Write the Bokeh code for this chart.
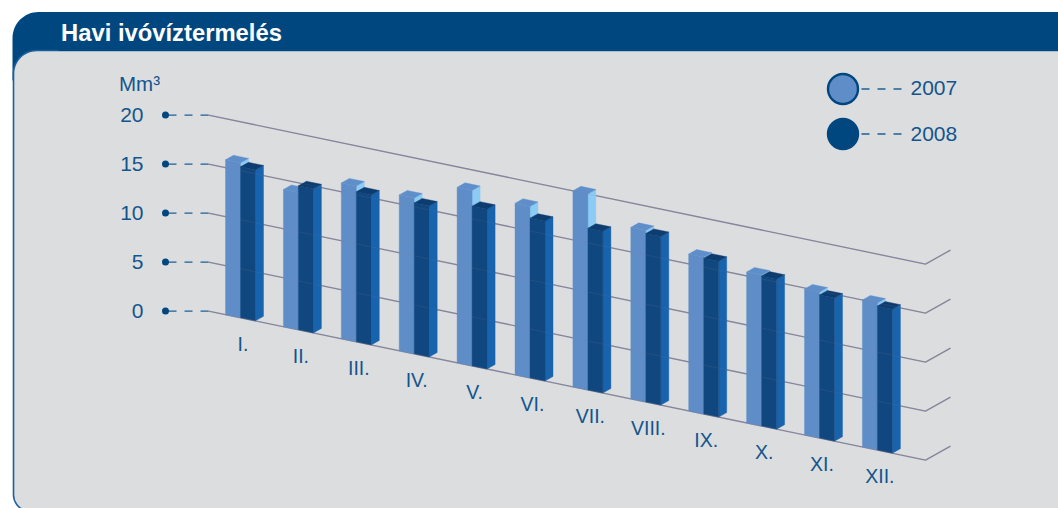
import math
from bokeh.plotting import figure
from bokeh.models import LinearAxis, FixedTicker, Range1d
from bokeh.core.properties import value
from bokeh.embed import file_html
from bokeh.resources import INLINE

months = ["I.", "II.", "III.", "IV.", "V.", "VI.", "VII.", "VIII.", "IX.", "X.", "XI.", "XII."]
production_2007 = [15.8, 14.0, 15.9, 15.9, 17.9, 17.5, 20.0, 17.5, 16.0, 15.4, 14.9, 15.0]
production_2008 = [15.4, 14.7, 15.3, 15.4, 16.3, 16.3, 16.5, 17.2, 15.9, 15.3, 14.6, 14.7]
y_ticks = [0, 5, 10, 15, 20]
title = "Havi ivóvíztermelés"
unit = "Mm³"
series_names = ["2007", "2008"]

FONT = "Liberation Sans"
BLUE = "#00477f"
TEXT = "#12558c"
PANEL = "#dcdddf"
GRID = "#86869c"
DASH = "#1f5f94"
C07 = dict(front="#5f8dc8", top="#5f8fca", side="#8ccbf4")
C08 = dict(front="#11477f", top="#0d3c70", side="#1763ae")

# scales: x in months, y in million m3
PX_M, PX_V = 57.9, 9.8
X0_PX, Y0_PX = 225.0, 310.6


def dx(px):
    return (px - X0_PX) / PX_M


def dy(py):
    return (Y0_PX - py) / PX_V


RISE = 0.2078 * PX_M / PX_V
XSTART = dx(208)
BAR_W = 15.0 / PX_M
DEPTH_X = 8.0 / PX_M
DEPTH_Y = 4.5 / PX_V


def proj(x, v):
    return x, v - RISE * (x - XSTART)


p = figure(width=1058, height=508, output_backend="svg", toolbar_location=None,
           x_range=Range1d(dx(0), dx(1058)), y_range=Range1d(dy(508), dy(0)),
           x_axis_location=None, y_axis_location=None, min_border=0)
p.grid.visible = False
p.outline_line_color = None
p.background_fill_color = "white"
p.border_fill_color = "white"


def arc(cx, cy, r, a0, a1, n=16):
    return [(cx + r * math.cos(math.radians(a0 + (a1 - a0) * i / n)),
             cy - r * math.sin(math.radians(a0 + (a1 - a0) * i / n))) for i in range(n + 1)]


# header and panel
hdr = arc(38, 37.5, 26, 180, 90) + [(1060, 11.5), (1060, 80), (12, 80)]
p.patch([dx(a) for a, b in hdr], [dy(b) for a, b in hdr], fill_color=BLUE, line_color=None)
pan = arc(36, 73, 23, 180, 90) + [(1060, 50), (1060, 512), (30, 512)] + arc(30, 494, 17, 270, 180)
p.patch([dx(a) for a, b in pan], [dy(b) for a, b in pan], fill_color=PANEL, line_color="#1a5f9c", line_width=1.6)
p.patch([dx(a) for a in (58, 1060, 1060, 58)], [dy(b) for b in (49, 49, 50.5, 50.5)],
        fill_color=BLUE, line_color=None)
p.text([dx(60.5)], [dy(31.8)], text=[title], text_font=value(FONT), text_font_style="bold",
       text_font_size="23.8px", text_color="white", text_baseline="middle")


# gridlines
XEND = dx(925)
TAIL_X, TAIL_V = 25 / PX_M, 14 / PX_V


def grid_lines():
    xs, ys = [], []
    for t in y_ticks:
        a = proj(XSTART, t)
        b = proj(XEND, t)
        xs.append([a[0], b[0], b[0] + TAIL_X])
        ys.append([a[1], b[1], b[1] + TAIL_V])
    return xs, ys


gx, gy = grid_lines()
p.multi_line(gx, gy, line_color=GRID, line_width=1.3)

# stubs with dots
p.multi_line([[dx(165), XSTART] for _ in y_ticks], [[t, t] for t in y_ticks],
             line_color=DASH, line_width=1.4, line_dash="11 8 8 8 8")
p.scatter([dx(165)] * len(y_ticks), y_ticks, size=7, color=BLUE, line_color=None)


# bars
def bar_faces(x, v, w, c):
    x2 = x + w
    bl, br = proj(x, 0), proj(x2, 0)
    tl, tr = proj(x, v), proj(x2, v)
    faces = [
        ([x2, x2 + DEPTH_X, x2 + DEPTH_X, x2],
         [br[1], br[1] + DEPTH_Y, tr[1] + DEPTH_Y, tr[1]], c["side"]),
        ([x, x2, x2, x], [bl[1], br[1], tr[1], tl[1]], c["front"]),
        ([x, x2, x2 + DEPTH_X, x + DEPTH_X],
         [tl[1], tr[1], tr[1] + DEPTH_Y, tl[1] + DEPTH_Y], c["top"]),
    ]
    return faces


xs, ys, cs = [], [], []
for i, (a, b) in enumerate(zip(production_2007, production_2008)):
    for x, v, w, c in ((i, a, BAR_W, C07), (i + BAR_W, b, BAR_W, C08)):
        for fx, fy, col in bar_faces(x, v, w, c):
            xs.append(fx)
            ys.append(fy)
            cs.append(col)
p.patches(xs, ys, fill_color=cs, line_color=cs, line_width=0.4)

# gridlines faintly showing over the bars
p.multi_line(gx, gy, line_color=GRID, line_width=1.2, line_alpha=0.12)

# month labels
lx = [i + 17.5 / PX_M for i in range(len(months))]
ly = [proj(x, -2.6)[1] for x in lx]
p.text(lx, ly, text=months, text_font=value(FONT), text_font_size="19.5px", text_color=TEXT,
       text_align="center", text_baseline="middle")

# y axis
axis = LinearAxis(ticker=FixedTicker(ticks=y_ticks), fixed_location=dx(143))
axis.axis_line_color = None
axis.major_tick_line_color = None
axis.minor_tick_line_color = None
axis.major_tick_out = 0
axis.major_tick_in = 0
axis.major_label_standoff = 0
axis.major_label_text_font = FONT
axis.major_label_text_font_size = "21px"
axis.major_label_text_color = TEXT
p.add_layout(axis, "left")
p.text([dx(118.5)], [dy(82.5)], text=[unit], text_font=value(FONT), text_font_size="20.5px",
       text_color=TEXT, text_baseline="middle")

# legend
leg_y = [dy(88.5), dy(133.5)]
p.scatter([dx(842.5)] * 2, leg_y, size=30, fill_color=[C07["front"], BLUE],
          line_color=BLUE, line_width=2.4)
p.multi_line([[dx(861), dx(903)] for _ in leg_y], [[y, y] for y in leg_y],
             line_color=DASH, line_width=1.4, line_dash="8 8")
p.text([dx(910)] * 2, [dy(87), dy(133)], text=series_names, text_font=value(FONT), text_font_size="21px",
       text_color=TEXT, text_baseline="middle")

open("out.html", "w").write(file_html(p, INLINE))
